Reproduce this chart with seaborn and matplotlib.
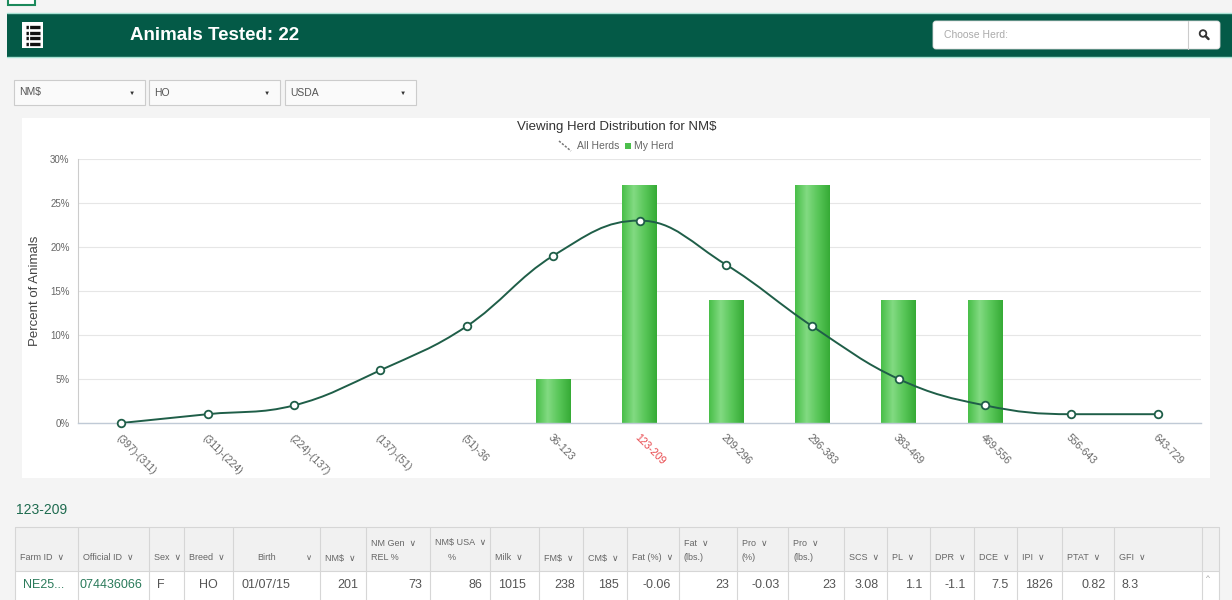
"""
Herd distribution dashboard: NM$ bins, all herds vs my herd.
Rebuilt as a static figure with the page chrome around the chart.
"""

import numpy as np
import matplotlib
matplotlib.use("Agg")
import matplotlib.pyplot as plt
import seaborn as sns
from matplotlib.patches import Rectangle, FancyBboxPatch, PathPatch, Circle
from matplotlib.path import Path
from matplotlib.colors import LinearSegmentedColormap

W, H = 1232, 600

# chart data
categories = ["(397)-(311)", "(311)-(224)", "(224)-(137)", "(137)-(51)", "(51)-36",
              "36-123", "123-209", "209-296", "296-383", "383-469", "469-556",
              "556-643", "643-729"]
all_herds = [0, 1, 2, 6, 11, 19, 23, 18, 11, 5, 2, 1, 1]
my_herd = [0, 0, 0, 0, 0, 5, 27, 14, 27, 14, 14, 0, 0]
selected_bin = "123-209"
y_ticks = [0, 5, 10, 15, 20, 25, 30]

# page texts
page_title = "Animals Tested: 22"
chart_title = "Viewing Herd Distribution for NM$"
dropdowns = ["NM$", "HO", "USDA"]
search_hint = "Choose Herd:"

# table below the chart
table_headers = ["Farm ID", "Official ID", "Sex", "Breed", "Birth", "NM$",
                 "NM Gen\nREL %", "NM$ USA\n%", "Milk", "FM$", "CM$", "Fat (%)",
                 "Fat\n(lbs.)", "Pro\n(%)", "Pro\n(lbs.)", "SCS", "PL", "DPR",
                 "DCE", "IPI", "PTAT", "GFI", ""]
table_row = ["NE25...", "074436066", "F", "HO", "01/07/15", "201", "73", "86",
             "1015", "238", "185", "-0.06", "23", "-0.03", "23", "3.08", "1.1",
             "-1.1", "7.5", "1826", "0.82", "8.3", ""]

# layout (pixels)
col_edges = [15, 78, 149, 184, 233, 320, 366, 430, 490, 539, 583, 627, 679,
             737, 788, 844, 887, 930, 974, 1017, 1062, 1114, 1202, 1219]
row_align = ["l", "l", "l", "c", "l", "r", "r", "r", "l", "r", "r", "r", "r",
             "r", "r", "r", "r", "r", "r", "l", "r", "l", "c"]

GREEN_DARK = "#045a47"
LINE_GREEN = "#1f5e48"
TEXT_GRAY = "#666666"

sns.set_style("white")
plt.rcParams["font.family"] = ["Liberation Sans", "DejaVu Sans"]


def spline_path(xs, ys, smoothing=1.5):
    """Cubic bezier path through the points, same rule as a Highcharts spline."""
    n = len(xs)
    d = smoothing + 1
    ctrl = []
    for i in range(n):
        px, py = xs[i], ys[i]
        if 0 < i < n - 1:
            lx, ly = xs[i - 1], ys[i - 1]
            nx, ny = xs[i + 1], ys[i + 1]
            lcx, lcy = (smoothing * px + lx) / d, (smoothing * py + ly) / d
            rcx, rcy = (smoothing * px + nx) / d, (smoothing * py + ny) / d
            corr = (rcy - lcy) * (rcx - px) / (rcx - lcx) + py - rcy
            lcy += corr
            rcy += corr
            if lcy > ly and lcy > py:
                lcy = max(ly, py); rcy = 2 * py - lcy
            elif lcy < ly and lcy < py:
                lcy = min(ly, py); rcy = 2 * py - lcy
            if rcy > ny and rcy > py:
                rcy = max(ny, py); lcy = 2 * py - rcy
            elif rcy < ny and rcy < py:
                rcy = min(ny, py); lcy = 2 * py - rcy
        else:
            lcx, lcy, rcx, rcy = px, py, px, py
        ctrl.append((lcx, lcy, rcx, rcy))
    verts = [(xs[0], ys[0])]
    codes = [Path.MOVETO]
    for i in range(1, n):
        verts += [(ctrl[i - 1][2], ctrl[i - 1][3]), (ctrl[i][0], ctrl[i][1]), (xs[i], ys[i])]
        codes += [Path.CURVE4] * 3
    return Path(verts, codes)


fig = plt.figure(figsize=(W / 100, H / 100), dpi=100, facecolor="#f4f4f4")

# page layer in pixel coordinates
bg = fig.add_axes([0, 0, 1, 1], zorder=0)
bg.set_xlim(0, W)
bg.set_ylim(H, 0)
bg.axis("off")

# top-left corner icon
bg.add_patch(Rectangle((8, -6), 27, 11, facecolor="white", edgecolor="#1c8a5c", lw=1.5))

# header bar
bg.add_patch(Rectangle((7, 13), W - 7, 44, facecolor=GREEN_DARK, edgecolor="none"))
bg.plot([7, W], [13, 13], color="#a8e2d4", lw=1)
bg.plot([7, W], [57, 57], color="#a8e2d4", lw=1)
bg.add_patch(Rectangle((22, 22), 21, 26, facecolor="white", edgecolor="none"))
for yy in [27, 32.5, 38, 43.5]:
    bg.plot([25.5, 39.5], [yy, yy], color="#111111", lw=2.4, solid_capstyle="butt")
bg.plot([29, 29], [23, 47], color="white", lw=0.9)
bg.text(130, 36, page_title, color="white", fontsize=13.5, fontweight="bold",
        ha="left", va="center")

# herd search box
bg.add_patch(FancyBboxPatch((933, 21), 287, 28, boxstyle="round,pad=0,rounding_size=3",
                            facecolor="white", edgecolor="#dddddd", lw=0.6))
bg.plot([1188, 1188], [21, 49], color="#cccccc", lw=0.8)
bg.text(944, 35.5, search_hint, color="#aaaaaa", fontsize=7.5, ha="left", va="center")
bg.add_patch(Circle((1203, 33.5), 3.3, facecolor="none", edgecolor="#333333", lw=1.3))
bg.plot([1205.5, 1208.5], [36, 39], color="#333333", lw=1.8, solid_capstyle="round")

# dropdowns
for x0, label in zip([14, 149, 285], dropdowns):
    bg.add_patch(Rectangle((x0, 80), 131, 25, facecolor="#fafafa", edgecolor="#cccccc", lw=0.8))
    bg.text(x0 + 5, 92.5, label, color="#555555", fontsize=7.5, ha="left", va="center")
    bg.text(x0 + 118, 93, "▼", color="#333333", fontsize=4.5, ha="center", va="center")

# chart panel
bg.add_patch(Rectangle((22, 118), 1188, 360, facecolor="white", edgecolor="none"))
bg.text(617, 127, chart_title, color="#333333", fontsize=9.5, ha="center", va="center")
bg.plot([559, 562, 565, 568, 571], [141, 143.5, 146, 148.5, 151], color="#777777",
        lw=1.1, dashes=(1.5, 1))
bg.text(577, 146, "All Herds", color=TEXT_GRAY, fontsize=7.5, ha="left", va="center")
bg.add_patch(Rectangle((625, 143), 6, 6, facecolor="#4cbf4c", edgecolor="none"))
bg.text(634, 146, "My Herd", color=TEXT_GRAY, fontsize=7.5, ha="left", va="center")

# chart
ax = fig.add_axes([78 / W, 1 - 423 / H, 1123 / W, 264 / H], zorder=2)
ax.set_facecolor("none")
positions = np.arange(len(categories))

sns.barplot(x=categories, y=my_herd, ax=ax, width=0.4, color="#52c352",
            saturation=1, edgecolor="none")
bar_cmap = LinearSegmentedColormap.from_list(
    "bar", ["#49bf49", "#82da82", "#58c658", "#36ab36"])
grad = np.linspace(0, 1, 64).reshape(1, -1)
for p in list(ax.patches):
    h = p.get_height()
    if h <= 0:
        continue
    x0, w = p.get_x(), p.get_width()
    im = ax.imshow(grad, extent=[x0, x0 + w, 0, h], aspect="auto", cmap=bar_cmap,
                   origin="lower", zorder=p.get_zorder() + 0.1)
    im.set_clip_path(p)

ax.add_patch(PathPatch(spline_path(positions, all_herds), facecolor="none",
                       edgecolor=LINE_GREEN, lw=1.4, zorder=4))
sns.scatterplot(x=positions, y=all_herds, ax=ax, s=30, color="white",
                edgecolor=LINE_GREEN, linewidth=1.3, zorder=5)
ax.collections[-1].set_clip_on(False)

ax.set_xlim(-0.5, len(categories) - 0.5)
ax.set_ylim(0, 30)
ax.set_yticks(y_ticks)
ax.set_yticklabels([f"{v}%" for v in y_ticks])
ax.set_xticks(positions)
ax.set_xticklabels(categories)
ax.set_xticks(np.arange(len(categories) + 1) - 0.5, minor=True)
ax.set_xlabel("")
ax.set_ylabel("Percent of Animals", fontsize=9.5, color="#444444")
ax.yaxis.set_label_coords(-0.033, 0.5)

ax.yaxis.grid(True, color="#e6e6e6", lw=0.8)
ax.set_axisbelow(True)
sns.despine(ax=ax)
ax.spines["left"].set_color("#cccccc")
ax.spines["left"].set_linewidth(0.8)
ax.spines["bottom"].set_color("#c0cad6")
ax.spines["bottom"].set_linewidth(1)
ax.tick_params(axis="y", length=4, color="#cccccc", labelsize=7, labelcolor=TEXT_GRAY, pad=2)
ax.tick_params(axis="x", which="major", length=0, pad=7, labelsize=7.5, labelcolor=TEXT_GRAY)
ax.tick_params(axis="x", which="minor", length=4, color="#c0cad6", width=0.8)
for lbl in ax.get_xticklabels():
    lbl.set_rotation(-45)
    lbl.set_ha("left")
    lbl.set_va("top")
    lbl.set_rotation_mode("anchor")
    if lbl.get_text() == selected_bin:
        lbl.set_color("#e8474c")

# selected bin table
bg.text(16, 510, selected_bin, color="#1e6b4f", fontsize=10, ha="left", va="center")
top, mid, bottom = 527, 571, 606
bg.add_patch(Rectangle((col_edges[0], top), col_edges[-1] - col_edges[0], mid - top,
                       facecolor="#f1f1f1", edgecolor="none"))
bg.add_patch(Rectangle((col_edges[0], mid), col_edges[-1] - col_edges[0], bottom - mid,
                       facecolor="white", edgecolor="none"))
for xe in col_edges:
    bg.plot([xe, xe], [top, bottom], color="#d6d6d6", lw=0.8)
bg.plot([col_edges[0], col_edges[-1]], [top, top], color="#d6d6d6", lw=0.8)
bg.plot([col_edges[0], col_edges[-1]], [mid, mid], color="#d6d6d6", lw=0.8)

for i, head in enumerate(table_headers):
    left, right = col_edges[i], col_edges[i + 1]
    if not head:
        continue
    lines = head.split("\n")
    if head == "Birth":
        bg.text((left + right) / 2 - 10, 558, head, color=TEXT_GRAY, fontsize=6.5,
                ha="center", va="center")
        bg.text(right - 11, 558, "∨", color=TEXT_GRAY, fontsize=6, ha="center", va="center")
        continue
    if len(lines) == 1:
        bg.text(left + 5, 558, head + "  ∨", color=TEXT_GRAY, fontsize=6.5,
                ha="left", va="center")
    else:
        bg.text(left + 5, 543, lines[0] + "  ∨", color=TEXT_GRAY, fontsize=6.5,
                ha="left", va="center")
        bg.text(left + 5 if lines[1] != "%" else (left + right) / 2 - 12, 558, lines[1],
                color=TEXT_GRAY, fontsize=6.5, ha="left", va="center")

for i, (val, al) in enumerate(zip(table_row, row_align)):
    left, right = col_edges[i], col_edges[i + 1]
    color = "#2a7a5a" if i < 2 else "#555555"
    if al == "l":
        x, ha = left + (2 if i == 1 else 8), "left"
    elif al == "r":
        x, ha = right - 8, "right"
    else:
        x, ha = (left + right) / 2, "center"
    bg.text(x, 585, val, color=color, fontsize=9, ha=ha, va="center")
bg.text(1208, 579, "^", color="#999999", fontsize=6, ha="center", va="center")

fig.savefig("out.png", dpi=100)
plt.close(fig)
